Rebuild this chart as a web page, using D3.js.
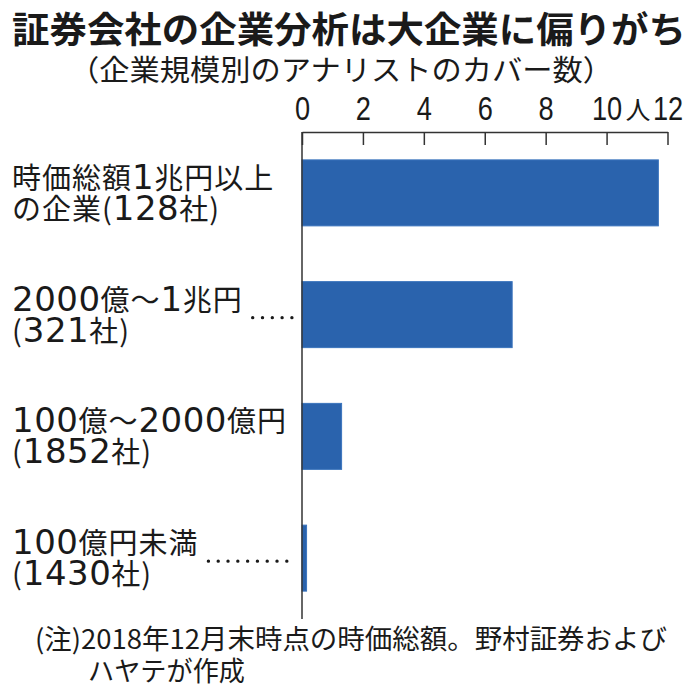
<!DOCTYPE html>
<html lang="ja">
<head>
<meta charset="UTF-8">
<title>証券会社の企業分析は大企業に偏りがち</title>
<script src="https://d3js.org/d3.v7.min.js"></script>
<style>
  body { margin: 0; background: #fff; }
  svg text { font-family: "Noto Sans CJK JP", "Noto Sans", sans-serif; fill: #1a1a1a; }
  .tick text { font-family: "Liberation Sans", sans-serif; }
</style>
</head>
<body>
<svg id="chart"></svg>
<script>
// data
const categoriesLine1 = ["時価総額1兆円以上", "2000億～1兆円", "100億～2000億円", "100億円未満"];
const categoriesLine2 = ["の企業(128社)", "(321社)", "(1852社)", "(1430社)"];
const analysts = [11.7, 6.9, 1.3, 0.15];
const hasLeader = [false, true, false, true];
const tickValues = [0, 2, 4, 6, 8, 10, 12];

const W = 696, H = 696;
const svg = d3.select("#chart").attr("width", W).attr("height", H);

const x = d3.scaleLinear().domain([0, 12]).range([302, 667.5]);
const y = d3.scaleBand()
  .domain(d3.range(categoriesLine1.length))
  .range([132, 619])
  .paddingInner(0.458)
  .paddingOuter(0.229);

// title + subtitle
svg.append("text")
  .attr("x", 12).attr("y", 43)
  .attr("font-size", 36).attr("font-weight", 700)
  .attr("textLength", 674).attr("lengthAdjust", "spacingAndGlyphs")
  .text("証券会社の企業分析は大企業に偏りがち");

svg.append("text")
  .attr("x", 69).attr("y", 81)
  .attr("font-size", 29)
  .attr("textLength", 544).attr("lengthAdjust", "spacingAndGlyphs")
  .text("（企業規模別のアナリストのカバー数）");

// bars
svg.append("g").selectAll("rect")
  .data(analysts)
  .join("rect")
  .attr("x", x(0))
  .attr("y", (d, i) => y(i))
  .attr("width", d => x(d) - x(0))
  .attr("height", y.bandwidth())
  .attr("fill", "#2a63ad")
  .attr("stroke", "#3b74bd")
  .attr("stroke-width", 1);

// top axis, ticks pointing down into the plot
const axis = d3.axisTop(x)
  .tickValues(tickValues)
  .tickSizeInner(-13)
  .tickSizeOuter(0)
  .tickPadding(12)
  .tickFormat(d3.format("d"));

const gx = svg.append("g")
  .attr("transform", `translate(0,${y.range()[0]})`)
  .call(axis);
gx.select(".domain").attr("stroke", "#333").attr("stroke-width", 1.5);
gx.selectAll(".tick line").attr("stroke", "#333").attr("stroke-width", 1.5);
gx.selectAll(".tick text")
  .attr("font-size", 34)
  .attr("fill", "#1a1a1a")
  .attr("transform", "scale(0.8,1)");

// unit label between 10 and 12
svg.append("text")
  .attr("x", (x(10) + x(12)) / 2 + 1).attr("y", 119)
  .attr("text-anchor", "middle")
  .attr("font-size", 25)
  .text("人");

// vertical axis line
svg.append("line")
  .attr("x1", x(0)).attr("x2", x(0))
  .attr("y1", y.range()[0]).attr("y2", y.range()[1])
  .attr("stroke", "#333").attr("stroke-width", 1.5);

// labels: digits are big and wide in the original, so set them in their own font
function setRuns(text, str) {
  text.selectAll("tspan")
    .data(str.match(/\d+|\D+/g))
    .join("tspan")
    .attr("font-family", s => /\d/.test(s) ? "DejaVu Sans" : null)
    .attr("font-size", s => /\d/.test(s) ? 34 : null)
    .attr("letter-spacing", s => /\d/.test(s) ? 0.5 : 1)
    .text(s => s);
}

const labels = svg.append("g").selectAll("g")
  .data(categoriesLine1)
  .join("g")
  .attr("transform", (d, i) => `translate(12,${y(i) + y.bandwidth() / 2})`);

labels.append("text")
  .attr("class", "l1")
  .attr("y", -4)
  .attr("font-size", 29)
  .each(function (d) { setRuns(d3.select(this), d); });

labels.append("text")
  .attr("y", 27)
  .attr("font-size", 29)
  .each(function (d, i) { setRuns(d3.select(this), categoriesLine2[i]); });

// dotted leaders from the label to the axis
labels.each(function (d, i) {
  if (!hasLeader[i]) return;
  const g = d3.select(this);
  const end = g.select(".l1").node().getComputedTextLength();
  g.append("line")
    .attr("x1", end + 10).attr("x2", x(0) - 10 - 12)
    .attr("y1", 3).attr("y2", 3)
    .attr("stroke", "#1a1a1a")
    .attr("stroke-width", 3.4)
    .attr("stroke-linecap", "round")
    .attr("stroke-dasharray", "0,9.8");
});

// footnote
svg.append("text")
  .attr("x", 35).attr("y", 649)
  .attr("font-size", 27)
  .attr("textLength", 632).attr("lengthAdjust", "spacingAndGlyphs")
  .text("(注)2018年12月末時点の時価総額。野村証券および");

svg.append("text")
  .attr("x", 88).attr("y", 681)
  .attr("font-size", 27)
  .attr("textLength", 157).attr("lengthAdjust", "spacingAndGlyphs")
  .text("ハヤテが作成");
</script>
</body>
</html>
